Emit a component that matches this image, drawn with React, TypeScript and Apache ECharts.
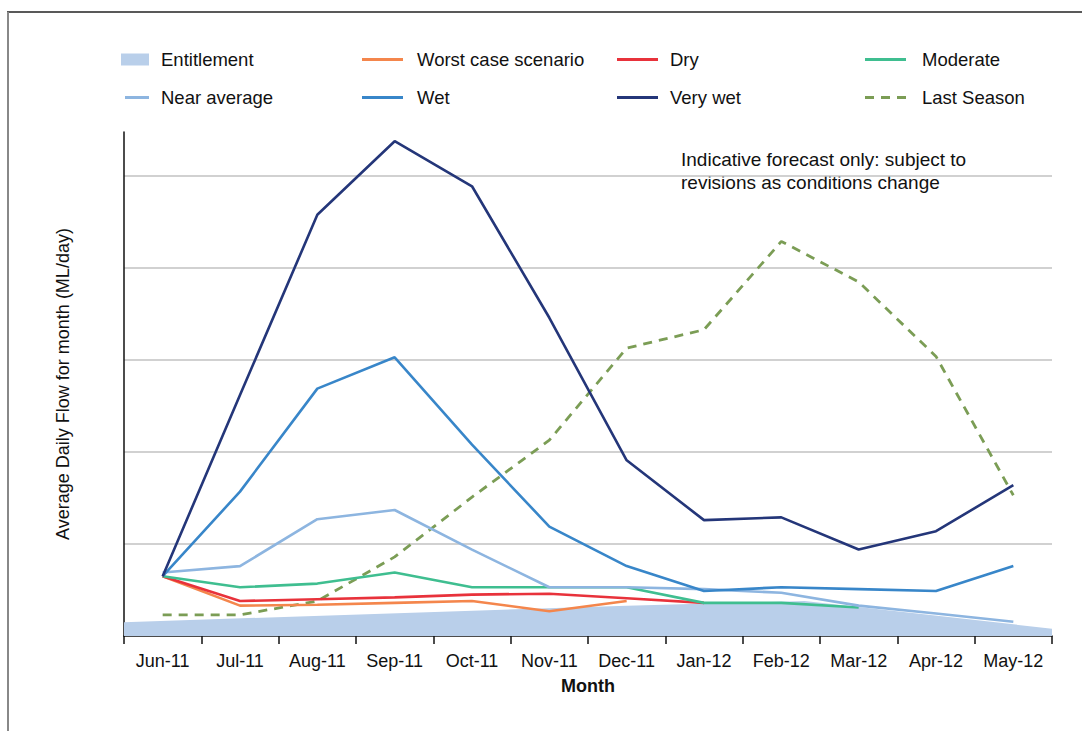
import React, { useEffect, useRef } from "react";
import * as echarts from "echarts";

const months = ["Jun-11", "Jul-11", "Aug-11", "Sep-11", "Oct-11", "Nov-11", "Dec-11", "Jan-12", "Feb-12", "Mar-12", "Apr-12", "May-12"];

const entitlementX = [0, 6.5, 8.8, 12];
const entitlementY = [0.15, 0.33, 0.38, 0.08];

const worstCase = [0.65, 0.33, 0.34, 0.36, 0.38, 0.27, 0.38];
const dry = [0.65, 0.38, 0.4, 0.42, 0.45, 0.46, 0.41, 0.36];
const moderate = [0.65, 0.53, 0.57, 0.69, 0.53, 0.53, 0.53, 0.36, 0.36, 0.31];
const nearAverage = [0.69, 0.76, 1.27, 1.37, 0.94, 0.53, 0.53, 0.51, 0.47, 0.33, 0.245, 0.155];
const wet = [0.65, 1.57, 2.69, 3.03, 2.08, 1.19, 0.76, 0.49, 0.53, 0.51, 0.49, 0.76];
const veryWet = [0.65, 2.62, 4.58, 5.38, 4.89, 3.46, 1.91, 1.26, 1.29, 0.94, 1.14, 1.64];
const lastSeason = [0.23, 0.23, 0.38, 0.86, 1.51, 2.13, 3.13, 3.33, 4.29, 3.85, 3.04, 1.53];

const FONT = "'Liberation Sans', Arial, Helvetica, sans-serif";
const LINE_ICON = "rect";
const DASH_ICON = "path://M0 0h9v3H0z M16 0h9v3h-9z M32 0h9v3h-9z";

export default function App() {
  const ref = useRef<HTMLDivElement>(null);

  useEffect(() => {
    if (!ref.current) return;
    const chart = echarts.init(ref.current, undefined, { renderer: "svg" });

    const legendText = (gap: number) => ({ fontFamily: FONT, fontSize: 18.5, color: "#111", padding: [0, 0, 0, gap] });
    const mkLegend = (name: string, color: string, left: number, top: number, gap: number, icon = LINE_ICON, w = 41) => ({
      data: [{ name, icon, itemStyle: { color, borderWidth: 0 } }],
      left,
      top,
      padding: 0,
      itemWidth: w,
      itemHeight: 3,
      textStyle: legendText(gap),
      selectedMode: false,
    });

    const lineSeries = (name: string, data: number[], color: string, extra: any = {}) => ({
      name,
      type: "line",
      data,
      symbol: "none",
      color,
      lineStyle: { color, width: 2.6 },
      ...extra,
    });

    chart.setOption({
      animation: false,
      backgroundColor: "#fff",
      grid: { left: 124, right: 30, top: 132, bottom: 95, containLabel: false },
      legend: [
        {
          data: [{ name: "Entitlement", icon: "rect", itemStyle: { color: "#b9cfea", borderWidth: 0 } }],
          left: 121,
          top: 50,
          padding: 0,
          itemWidth: 28,
          itemHeight: 12,
          textStyle: legendText(7),
          selectedMode: false,
        },
        mkLegend("Worst case scenario", "#f4864c", 362, 50, 9),
        mkLegend("Dry", "#e8323b", 617, 50, 7),
        mkLegend("Moderate", "#3fbe90", 865, 50, 11),
        mkLegend("Near average", "#8db5e0", 125, 88, 7, LINE_ICON, 24),
        mkLegend("Wet", "#3886c9", 362, 88, 9),
        mkLegend("Very wet", "#243679", 617, 88, 7),
        mkLegend("Last Season", "#7b9d55", 865, 88, 11, DASH_ICON),
      ],
      xAxis: [
        {
          type: "category",
          data: months,
          boundaryGap: true,
          axisLine: { lineStyle: { color: "#111", width: 1.5 } },
          axisTick: { show: true, interval: 0, length: 8, lineStyle: { color: "#111", width: 1.5 } },
          axisLabel: { interval: 0, fontFamily: FONT, fontSize: 18, color: "#111", margin: 16 },
          name: "Month",
          nameLocation: "middle",
          nameGap: 41,
          nameTextStyle: { fontFamily: FONT, fontSize: 18, fontWeight: "bold", color: "#111" },
          splitLine: { show: false },
        },
        {
          type: "value",
          min: 0,
          max: 12,
          show: false,
        },
      ],
      yAxis: {
        type: "value",
        min: 0,
        max: 5.48,
        interval: 1,
        axisLine: { show: true, lineStyle: { color: "#111", width: 1.5 } },
        axisTick: { show: false },
        axisLabel: { show: false },
        splitLine: { show: true, showMaxLine: false, showMinLine: false, lineStyle: { color: "#c2c2c2", width: 1.6 } },
        name: "Average Daily Flow for month (ML/day)",
        nameLocation: "middle",
        nameGap: 52,
        nameTextStyle: { fontFamily: FONT, fontSize: 18, color: "#111" },
      },
      graphic: [
        { type: "line", shape: { x1: 7, y1: 12, x2: 1082, y2: 12 }, style: { stroke: "#222", lineWidth: 1.5 } },
        { type: "line", shape: { x1: 8, y1: 12, x2: 8, y2: 731 }, style: { stroke: "#888", lineWidth: 2 } },
        {
          type: "text",
          left: 681,
          top: 148,
          style: {
            text: "Indicative forecast only: subject to\nrevisions as conditions change",
            fontFamily: FONT,
            fontSize: 19,
            lineHeight: 23,
            fill: "#111",
          },
        },
      ],
      series: [
        {
          name: "Entitlement",
          type: "line",
          xAxisIndex: 1,
          data: entitlementX.map((x, i) => [x, entitlementY[i]]),
          symbol: "none",
          color: "#b9cfea",
          lineStyle: { width: 0, color: "#b9cfea" },
          areaStyle: { color: "#b9cfea", opacity: 1 },
          z: 1,
        },
        lineSeries("Last Season", lastSeason, "#7b9d55", { lineStyle: { color: "#7b9d55", width: 2.8, type: [9, 7] } }),
        lineSeries("Worst case scenario", worstCase, "#f4864c"),
        lineSeries("Dry", dry, "#e8323b"),
        lineSeries("Moderate", moderate, "#3fbe90"),
        lineSeries("Near average", nearAverage, "#8db5e0"),
        lineSeries("Wet", wet, "#3886c9"),
        lineSeries("Very wet", veryWet, "#243679"),
      ],
    });

    return () => chart.dispose();
  }, []);

  return <div ref={ref} style={{ position: "absolute", left: 0, top: 0, width: 1082, height: 731 }} />;
}
